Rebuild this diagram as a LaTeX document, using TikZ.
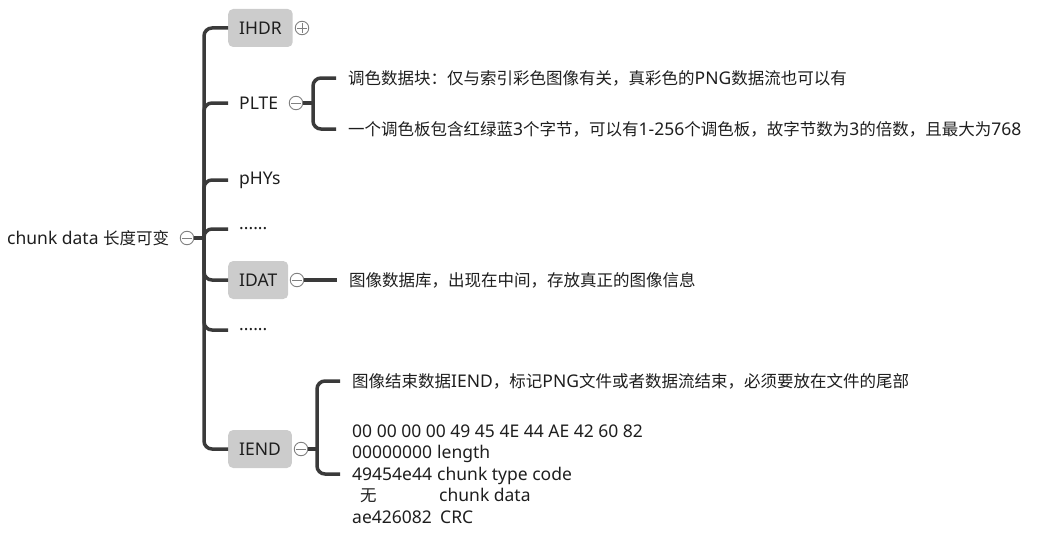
\documentclass[tikz,border=0pt]{standalone}
\usepackage{fontspec}
\setmainfont{Noto Sans}[Scale=1.06]
\newfontfamily\cjk{Noto Sans CJK SC}
\definecolor{linec}{HTML}{3A3A3A}
\definecolor{boxc}{HTML}{CCCCCC}
\definecolor{txtc}{HTML}{1E1E1E}
\definecolor{circc}{HTML}{808080}
\begin{document}
\begin{tikzpicture}[x=1pt,y=-1pt,
  every node/.style={text=txtc,font=\fontsize{16.5}{21.5}\selectfont},
  conn/.style={draw=linec,line width=3.5pt,rounded corners=8pt},
  stub/.style={draw=linec,line width=3.5pt},
  topic/.style={anchor=west,inner xsep=11pt,minimum height=38pt,rounded corners=5pt},
  graybox/.style={topic,fill=boxc},
  leaf/.style={anchor=west,inner xsep=12pt,inner ysep=2pt},
  toggle/.style={circle,draw=circc,fill=white,line width=0.9pt,minimum size=13.5pt,inner sep=0pt},
  collapse/.style={toggle,path picture={\draw[circc,line width=0.9pt]([xshift=-5pt]path picture bounding box.center)--([xshift=5pt]path picture bounding box.center);}},
  expand/.style={toggle,path picture={\draw[circc,line width=0.9pt]([xshift=-5pt]path picture bounding box.center)--([xshift=5pt]path picture bounding box.center);\draw[circc,line width=0.9pt]([yshift=-5pt]path picture bounding box.center)--([yshift=5pt]path picture bounding box.center);}}]
\useasboundingbox (0,0) rectangle (1049,535);

% root
\node[anchor=west,inner sep=0pt] (root) at (7,238) {chunk data {\cjk 长度可变}};
\node[collapse] (rc) at (187,238) {};
\coordinate (T) at (204,238);
\draw[stub] (rc.east) -- (T);

% level 1
\node[graybox] (ihdr) at (228,28) {IHDR};
\node[expand] (ihdrc) at (302,28) {};
\node[topic] (plte) at (228,103) {PLTE};
\node[collapse] (pltec) at (296,103) {};
\node[topic] (phys) at (228,180) {pHYs};
\node[topic] (dots1) at (228,229) {......};
\node[graybox] (idat) at (228,280) {IDAT};
\node[collapse] (idatc) at (297,280) {};
\node[topic] (dots2) at (228,330) {......};
\node[graybox] (iend) at (228,449) {IEND};
\node[collapse] (iendc) at (301,449) {};

\foreach \n in {ihdr,plte,phys,dots1,idat,dots2,iend}
  \draw[conn] (T) |- (\n.west);

% PLTE children
\node[leaf] (p1) at (336,78) {{\cjk 调色数据块：仅与索引彩色图像有关，真彩色的}PNG{\cjk 数据流也可以有}};
\node[leaf] (p2) at (336,129) {{\cjk 一个调色板包含红绿蓝}3{\cjk 个字节，可以有}1-256{\cjk 个调色板，故字节数为}3{\cjk 的倍数，且最大为}768};
\coordinate (PB) at (313,103);
\draw[stub] (pltec.east) -- (PB);
\draw[conn] (PB) |- (p1.west);
\draw[conn] (PB) |- (p2.west);

% IDAT child
\node[leaf] (d1) at (337,280) {\cjk 图像数据库，出现在中间，存放真正的图像信息};
\draw[stub] (idatc.east) -- (d1.west);

% IEND children
\node[leaf] (e1) at (340,381) {{\cjk 图像结束数据}IEND{\cjk ，标记}PNG{\cjk 文件或者数据流结束，必须要放在文件的尾部}};
\node[leaf,align=left] (e2) at (340,474) {00 00 00 00 49 45 4E 44 AE 42 60 82\\
\makebox[85pt][l]{00000000}length\\
\makebox[85pt][l]{49454e44}chunk type code\\
\makebox[87pt][l]{\hspace{8pt}\cjk 无}chunk data\\
\makebox[88pt][l]{ae426082}CRC};
\coordinate (EB) at (317,449);
\draw[stub] (iendc.east) -- (EB);
\draw[conn] (EB) |- (e1.west);
\draw[conn] (EB) |- (e2.west);
\end{tikzpicture}
\end{document}
